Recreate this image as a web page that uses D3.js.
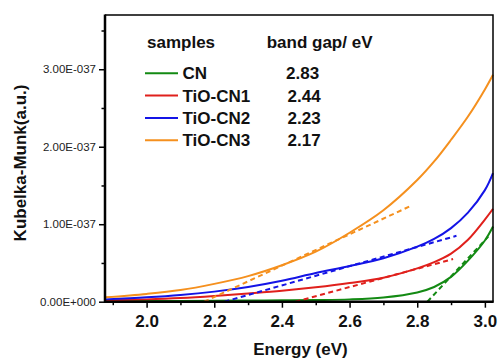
<!DOCTYPE html>
<html>
<head>
<meta charset="utf-8">
<script src="https://cdn.jsdelivr.net/npm/d3@7"></script>
<style>
  body { margin: 0; background: #fff; }
  svg { display: block; font-family: Arial, "Liberation Sans", sans-serif; }
</style>
</head>
<body>
<div id="chart"></div>
<script>
// photon energy (eV) and Kubelka-Munk values in units of 1E-037
const energy = [1.877, 2.0, 2.1, 2.2, 2.3, 2.4, 2.5, 2.6, 2.7, 2.8, 2.85, 2.9, 2.95, 3.0, 3.024];
const cn     = [0.008, 0.008, 0.01, 0.012, 0.015, 0.018, 0.022, 0.03, 0.055, 0.12, 0.19, 0.32, 0.53, 0.79, 0.97];
const tiocn1 = [0.017, 0.03, 0.047, 0.073, 0.105, 0.14, 0.185, 0.24, 0.31, 0.43, 0.51, 0.62, 0.80, 1.06, 1.20];
const tiocn2 = [0.03, 0.056, 0.086, 0.13, 0.19, 0.27, 0.37, 0.46, 0.56, 0.71, 0.81, 0.95, 1.15, 1.44, 1.66];
const tiocn3 = [0.056, 0.10, 0.15, 0.23, 0.33, 0.47, 0.645, 0.89, 1.18, 1.57, 1.81, 2.09, 2.39, 2.74, 2.93];

const sampleNames = ["CN", "TiO-CN1", "TiO-CN2", "TiO-CN3"];
const bandGaps = [2.83, 2.44, 2.23, 2.17];
// end point of each tangent (dashed) line
const tangentEndE = [3.01, 2.906, 2.916, 2.778];
const tangentEndV = [0.84, 0.55, 0.85, 1.23];
const colors = ["#138a13", "#e0201c", "#1414e6", "#f5901e"];

const xMajor = [2.0, 2.2, 2.4, 2.6, 2.8, 3.0];
const xMinor = [1.9, 2.1, 2.3, 2.5, 2.7, 2.9];
const yMajor = [0, 1, 2, 3];
const yMinor = [0.5, 1.5, 2.5, 3.5];

const width = 498, height = 361;
const margin = { top: 15, right: 5, bottom: 59.3, left: 105 };

const svg = d3.select("#chart").append("svg")
    .attr("width", width)
    .attr("height", height);

const x = d3.scaleLinear().domain([1.877, 3.024]).range([margin.left, width - margin.right]);
const y = d3.scaleLinear().domain([0, 3.70]).range([height - margin.bottom, margin.top]);

const series = [cn, tiocn1, tiocn2, tiocn3];

// axes
const yAxis = svg.append("g")
    .attr("transform", `translate(${margin.left},0)`)
    .call(d3.axisLeft(y).tickValues(yMajor).tickSize(6).tickPadding(3).tickSizeOuter(0)
        .tickFormat(d => d === 0 ? "0.00E+000" : d.toFixed(2) + "E-037"));
yAxis.selectAll("text").attr("font-size", 11.5).attr("fill", "#222").attr("font-family", null);
yAxis.selectAll("line").attr("stroke-width", 1.5);

svg.append("g")
    .attr("transform", `translate(${margin.left},0)`)
    .call(d3.axisLeft(y).tickValues(yMinor).tickSize(3.5).tickFormat("").tickSizeOuter(0))
    .call(g => g.select(".domain").remove())
    .selectAll("line").attr("stroke-width", 1.5);

const xAxis = svg.append("g")
    .attr("transform", `translate(0,${height - margin.bottom})`)
    .call(d3.axisBottom(x).tickValues(xMajor).tickSize(6).tickPadding(7).tickSizeOuter(0)
        .tickFormat(d3.format(".1f")));
xAxis.selectAll("text").attr("font-size", 17).attr("font-weight", "bold").attr("fill", "#111").attr("font-family", null);
xAxis.selectAll("line").attr("stroke-width", 1.5);

svg.append("g")
    .attr("transform", `translate(0,${height - margin.bottom})`)
    .call(d3.axisBottom(x).tickValues(xMinor).tickSize(3.5).tickFormat("").tickSizeOuter(0))
    .call(g => g.select(".domain").remove())
    .selectAll("line").attr("stroke-width", 1.5);

// curves
const line = d3.line()
    .x((d, i) => x(energy[i]))
    .y(d => y(d))
    .curve(d3.curveCatmullRom.alpha(0.5));

series.forEach((vals, i) => {
    svg.append("path")
        .attr("d", line(vals))
        .attr("fill", "none")
        .attr("stroke", colors[i])
        .attr("stroke-width", 2);
});

// tangent lines to the absorption edges
bandGaps.forEach((g, i) => {
    svg.append("line")
        .attr("x1", x(g)).attr("y1", y(0))
        .attr("x2", x(tangentEndE[i])).attr("y2", y(tangentEndV[i]))
        .attr("stroke", colors[i])
        .attr("stroke-width", 2)
        .attr("stroke-dasharray", "5,3.5");
});

// frame
svg.append("path")
    .attr("d", `M${x.range()[0]},${margin.top}H${x.range()[1]}V${y(0)}`)
    .attr("fill", "none")
    .attr("stroke", "#000")
    .attr("stroke-width", 1.5);
svg.append("path")
    .attr("d", `M${x.range()[0]},${margin.top - 0.5}V${y(0)}H${x.range()[1] + 0.7}`)
    .attr("fill", "none")
    .attr("stroke", "#000")
    .attr("stroke-width", 2.5);
xAxis.select(".domain").remove();
yAxis.select(".domain").remove();

// axis titles
svg.append("text")
    .attr("x", 300.5)
    .attr("y", 355)
    .attr("text-anchor", "middle")
    .attr("font-size", 17)
    .attr("font-weight", "bold")
    .attr("fill", "#111")
    .text("Energy (eV)");

svg.append("text")
    .attr("transform", "translate(26,163) rotate(-90)")
    .attr("text-anchor", "middle")
    .attr("font-size", 17)
    .attr("font-weight", "bold")
    .attr("fill", "#111")
    .text("Kubelka-Munk(a.u.)");

// legend
const legend = svg.append("g");
legend.append("text")
    .attr("x", 147).attr("y", 48.3)
    .attr("font-size", 17).attr("font-weight", "bold").attr("fill", "#111")
    .text("samples");
legend.append("text")
    .attr("x", 266.7).attr("y", 48.3)
    .attr("font-size", 17).attr("font-weight", "bold").attr("fill", "#111")
    .text("band gap/ eV");

const rows = legend.selectAll(".row")
    .data(sampleNames)
    .enter().append("g")
    .attr("class", "row")
    .attr("transform", (d, i) => `translate(0,${73.3 + i * 22.3})`);

rows.append("line")
    .attr("x1", 145).attr("x2", 178)
    .attr("stroke", (d, i) => colors[i])
    .attr("stroke-width", 2);

rows.append("text")
    .attr("x", 182.5)
    .attr("dy", "0.36em")
    .attr("font-size", 17).attr("font-weight", "bold").attr("fill", "#111")
    .text(d => d);

rows.append("text")
    .attr("x", (d, i) => i === 0 ? 286 : 287.5)
    .attr("dy", "0.36em")
    .attr("font-size", 17).attr("font-weight", "bold").attr("fill", "#111")
    .text((d, i) => bandGaps[i].toFixed(2));
</script>
</body>
</html>
